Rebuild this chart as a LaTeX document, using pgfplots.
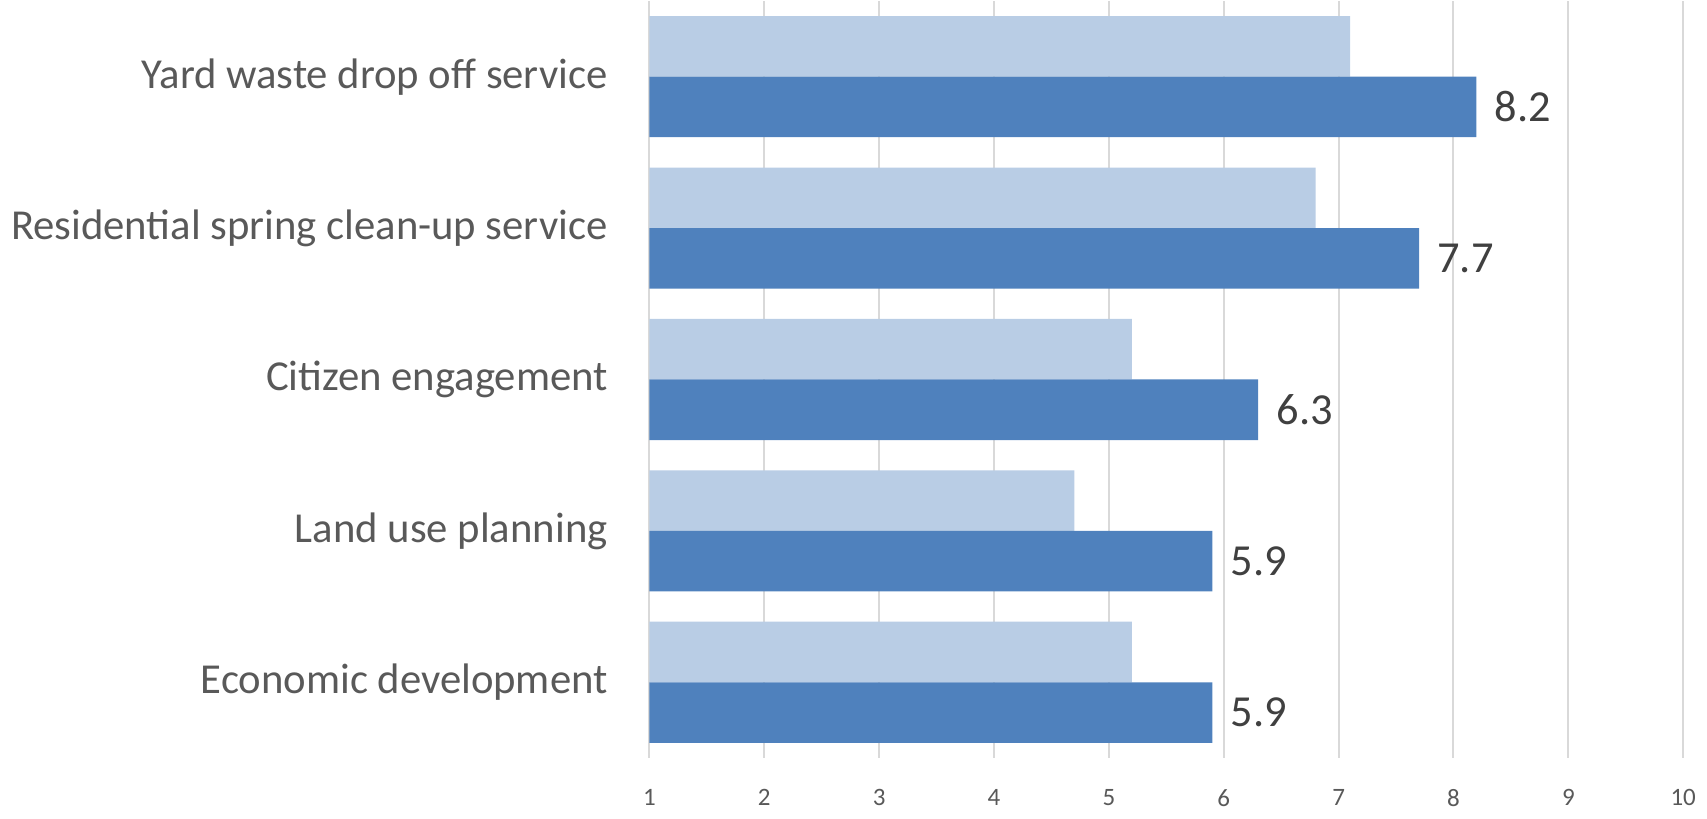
\documentclass[border=0pt]{standalone}
\usepackage{fontspec}
\setmainfont{Carlito}
\usepackage{pgfplots}
\pgfplotsset{compat=1.18}
\definecolor{darkbar}{HTML}{4F81BD}
\definecolor{lightbar}{HTML}{B9CDE5}
\definecolor{gridgray}{HTML}{D9D9D9}
\definecolor{labelgray}{HTML}{595959}
\definecolor{valgray}{HTML}{404040}
\begin{document}
\begin{tikzpicture}
\begin{axis}[
    scale only axis,
    width=310pt, height=227pt,
    xbar,
    xmin=1, xmax=10,
    ymin=-0.5, ymax=4.5,
    bar width=0.4,
    xtick={1,...,10},
    ytick={0,...,4},
    yticklabels={Economic development, Land use planning, Citizen engagement,
        Residential spring clean-up service, Yard waste drop off service},
    xmajorgrids,
    major grid style={gridgray, line width=0.6pt},
    axis line style={draw=none},
    major tick length=0pt,
    yticklabel style={font=\fontsize{12.8}{15}\selectfont, text=labelgray, xshift=-9pt},
    xticklabel style={font=\fontsize{7.5}{9}\selectfont, text=labelgray, yshift=-6pt},
    /pgf/number format/assume math mode=true,
]
% light series (upper bar of each pair)
\addplot[fill=lightbar, draw=none, bar shift=0.2] coordinates {
    (5.2,0) (4.7,1) (5.2,2) (6.8,3) (7.1,4)
};
% dark series with value labels
\addplot[fill=darkbar, draw=none, bar shift=-0.2,
    nodes near coords,
    nodes near coords style={font=\fontsize{13.3}{16}\selectfont, text=valgray, anchor=west, xshift=2pt},
] coordinates {
    (5.9,0) (5.9,1) (6.3,2) (7.7,3) (8.2,4)
};
\end{axis}
\end{tikzpicture}
\end{document}
